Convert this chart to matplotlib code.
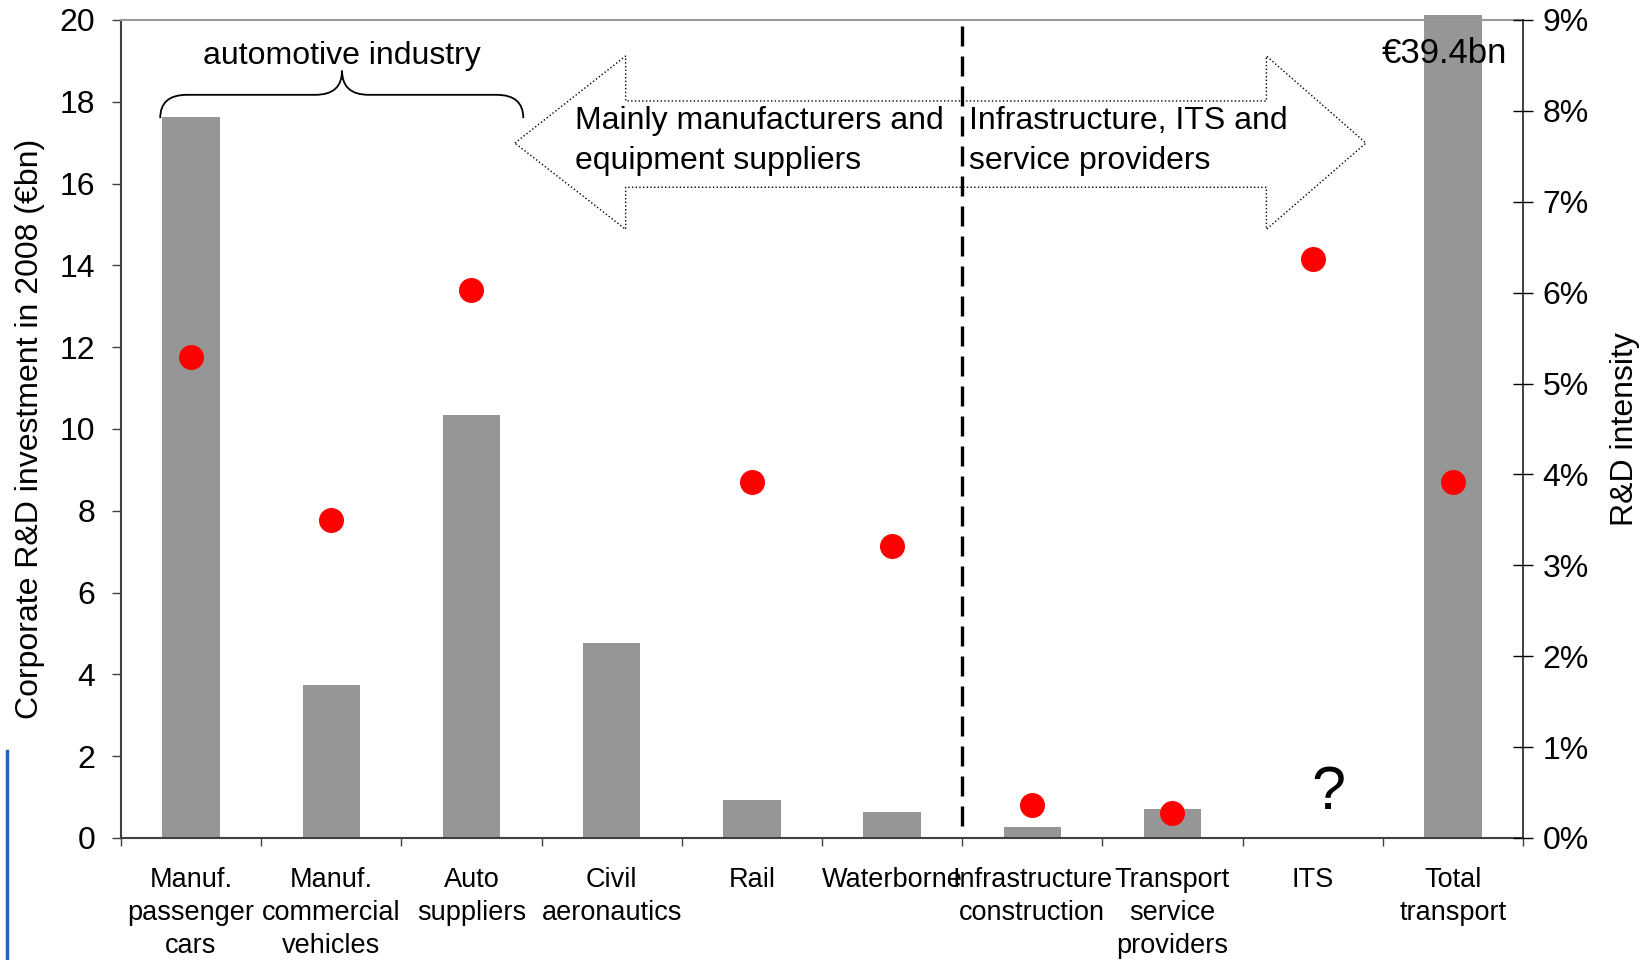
import numpy as np
import matplotlib
matplotlib.use("Agg")
import matplotlib.pyplot as plt
from matplotlib.path import Path
from matplotlib.patches import PathPatch, Polygon, Rectangle
from matplotlib.lines import Line2D
from matplotlib.ticker import FuncFormatter

plt.rcParams['font.family'] = ['Liberation Sans', 'DejaVu Sans']

categories = ["Manuf.\npassenger\ncars", "Manuf.\ncommercial\nvehicles", "Auto\nsuppliers",
              "Civil\naeronautics", "Rail", "Waterborne", "Infrastructure\nconstruction",
              "Transport\nservice\nproviders", "ITS", "Total\ntransport"]
rd_invest = [17.63, 3.73, 10.35, 4.76, 0.93, 0.64, 0.28, 0.72, np.nan, 39.4]   # EUR bn
rd_intensity = [5.29, 3.50, 6.03, np.nan, 3.92, 3.21, 0.36, 0.28, 6.37, 3.92]  # %

x = np.arange(len(categories))

fig = plt.figure(figsize=(16.5, 9.6), dpi=100)
ax = fig.add_axes([0.0733, 0.1271, 0.8497, 0.8521])
ax2 = ax.twinx()

bars = ax.bar(x, rd_invest, width=0.41, color='#969696', zorder=2)
# total bar runs off the top of the axis, just a bit past the frame
clip = Rectangle((-0.5, 0), 10, 20.12, transform=ax.transData)
for b in bars:
    b.set_clip_path(clip)

ax2.plot(x, rd_intensity, 'o', color='#ff0000', markersize=18, markeredgewidth=0, zorder=3)

ax.set_xlim(-0.5, 9.5)
ax.set_ylim(0, 20)
ax2.set_ylim(0, 9)
ax.set_yticks(np.arange(0, 21, 2))
ax2.set_yticks(np.arange(0, 10, 1))
ax2.yaxis.set_major_formatter(FuncFormatter(lambda v, p: '%d%%' % v))

ax.set_xticks(x)
ax.set_xticklabels(categories, fontsize=19.5, linespacing=1.35)
ax.set_xticks(np.arange(-0.5, 10, 1), minor=True)
ax.tick_params(axis='x', which='major', length=0, pad=21)
ax.tick_params(axis='x', which='minor', length=6, width=1, color='#404040', direction='out')
ax.tick_params(axis='y', labelsize=23, length=6.5, width=1, color='#404040', pad=12)
ax2.tick_params(axis='y', labelsize=23, length=14, width=1, direction='inout', pad=7)

for s in ['left', 'bottom']:
    ax.spines[s].set_color('#404040')
    ax.spines[s].set_linewidth(1.5)
ax.spines['top'].set_color('#999999')
ax.spines['top'].set_linewidth(1.5)
ax.spines['right'].set_visible(False)
for s in ['left', 'top', 'bottom']:
    ax2.spines[s].set_visible(False)
ax2.spines['right'].set_color('#202020')
ax2.spines['right'].set_linewidth(1.2)

ax.set_ylabel('Corporate R&D investment in 2008 (€bn)', fontsize=23)
ax.yaxis.set_label_coords(-0.054, 0.5)
ax2.set_ylabel('R&D intensity', fontsize=23)
ax2.yaxis.set_label_coords(1.062, 0.5)

# divider between the two groups
ax.plot([5.5, 5.5], [0.3, 20], color='black', lw=2.4, linestyle=(0, (6, 3)), zorder=4)

# double arrow with dotted outline
arrow = [(2.31, 16.99), (3.10, 19.12), (3.10, 18.02), (7.67, 18.02), (7.67, 19.12),
         (8.38, 16.99), (7.67, 14.88), (7.67, 15.91), (3.10, 15.91), (3.10, 14.88)]
ax.add_patch(Polygon(arrow, closed=True, facecolor='none', edgecolor='black',
                     lw=1, linestyle=':', zorder=3))
ax.text(2.74, 17.04, 'Mainly manufacturers and\nequipment suppliers', fontsize=23,
        ha='left', va='center', linespacing=1.42, zorder=5)
ax.text(5.55, 17.04, 'Infrastructure, ITS and\nservice providers', fontsize=23,
        ha='left', va='center', linespacing=1.42, zorder=5)

# brace over the automotive industry
x0, x1, xc = -0.22, 2.37, 1.077
y0, yh, yc, r = 17.6, 18.17, 18.76, 0.19
verts = [(x0, y0), (x0, yh), (x0 + r, yh), (xc - r, yh), (xc, yh), (xc, yc),
         (xc, yh), (xc + r, yh), (x1 - r, yh), (x1, yh), (x1, y0)]
codes = [Path.MOVETO, Path.CURVE3, Path.CURVE3, Path.LINETO, Path.CURVE3, Path.CURVE3,
         Path.CURVE3, Path.CURVE3, Path.LINETO, Path.CURVE3, Path.CURVE3]
ax.add_patch(PathPatch(Path(verts, codes), facecolor='none', edgecolor='black', lw=1.3))
ax.text(xc, 19.12, 'automotive industry', fontsize=23, ha='center', va='center')

ax.text(9.39, 19.17, '€39.4bn', fontsize=25, ha='right', va='center', zorder=5)
ax.text(8.11, 1.08, '?', fontsize=44, ha='center', va='center')

fig.add_artist(Line2D([0.0042, 0.0042], [0, 1 - 751 / 960], transform=fig.transFigure,
                      color='#1f66b8', lw=2.5))

fig.savefig('out.png', dpi=100)
